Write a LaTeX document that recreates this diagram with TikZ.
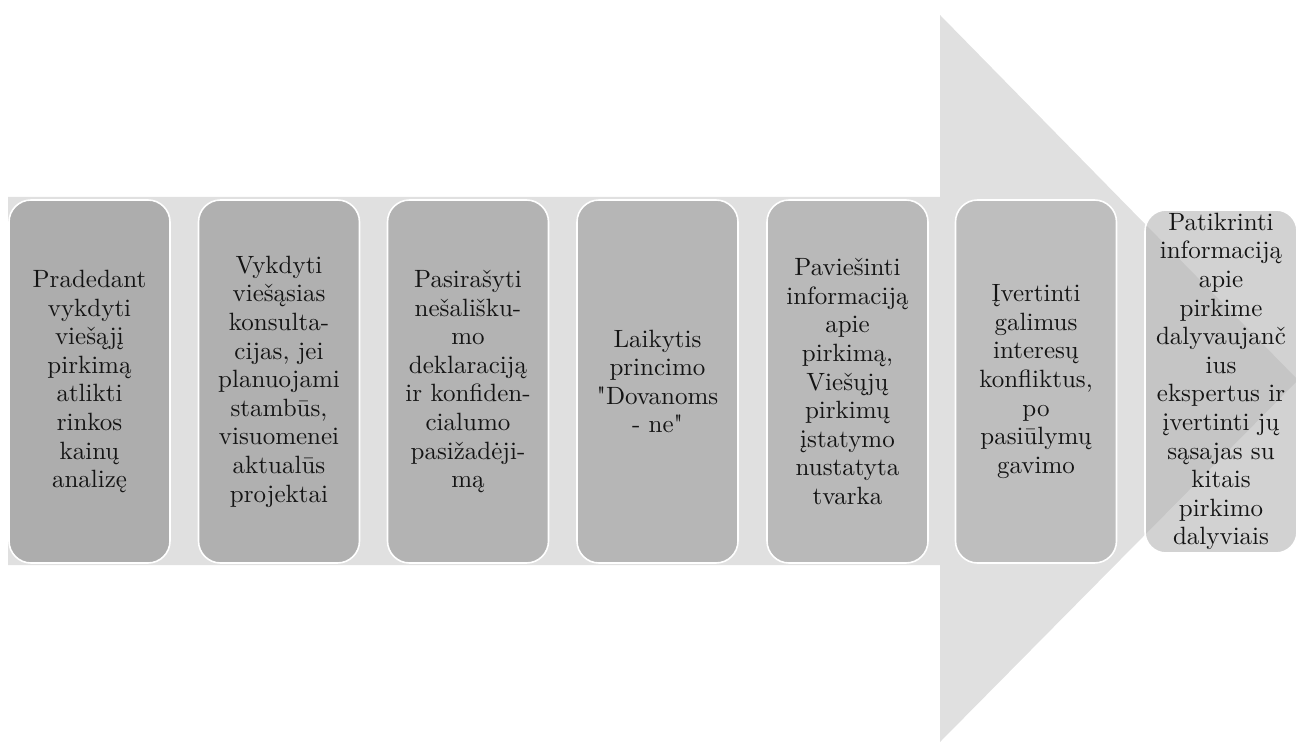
\documentclass[tikz,border=0pt]{standalone}
\usepackage{fontspec}
\newfontfamily\boxfont{lmroman10-regular}[Extension=.otf, Ligatures=TeXOff]
\definecolor{arrowgray}{RGB}{224,224,224}
\definecolor{bA}{RGB}{173,173,173}
\definecolor{bB}{RGB}{176,176,176}
\definecolor{bC}{RGB}{179,179,179}
\definecolor{bD}{RGB}{182,182,182}
\definecolor{bE}{RGB}{185,185,185}
\definecolor{bF}{RGB}{190,190,190}
\definecolor{bG}{RGB}{180,180,180}
\tikzset{
  stepbox/.style={draw=white, line width=1.6pt, rounded corners=22pt,
    minimum width=161pt, minimum height=363pt, inner sep=0pt,
    align=center, text=black!92,
    font=\boxfont\fontsize{25}{28.6}\selectfont},
}
\begin{document}
\begin{tikzpicture}[x=1pt,y=-1pt]
\useasboundingbox (0,0) rectangle (1298,743);
% big arrow
\fill[arrowgray] (8,197) -- (940,197) -- (940,15) -- (1298,380)
  -- (940,742) -- (940,565) -- (8,565) -- cycle;
\node[stepbox, fill=bA] (b1) at (89.5,381.5)
  {Pradedant\\vykdyti\\viešąjį\\pirkimą\\atlikti\\rinkos\\kainų\\analizę};
\node[stepbox, fill=bB] (b2) at (279,381.5)
  {Vykdyti\\viešąsias\\konsulta-\\cijas, jei\\planuojami\\stambūs,\\visuomenei\\aktualūs\\projektai};
\node[stepbox, fill=bC] (b3) at (468,381.5)
  {Pasirašyti\\nešališku-\\mo\\deklaraciją\\ir konfiden-\\cialumo\\pasižadėji-\\mą};
\node[stepbox, fill=bD] (b4) at (657.5,381.5)
  {Laikytis\\princimo\\"Dovanoms\\- ne"};
\node[stepbox, fill=bE] (b5) at (847.5,381.5)
  {Paviešinti\\informaciją\\apie\\pirkimą,\\Viešųjų\\pirkimų\\įstatymo\\nustatyta\\tvarka};
\node[stepbox, fill=bF] (b6) at (1036,381.5)
  {Įvertinti\\galimus\\interesų\\konfliktus,\\po\\pasiūlymų\\gavimo};
\node[stepbox, fill=bG, fill opacity=0.6, text opacity=1, draw opacity=1,
  minimum width=152pt, minimum height=343pt, rounded corners=21pt] (b7) at (1221,381.5)
  {Patikrinti\\informaciją\\apie\\pirkime\\dalyvaujanč\\ius\\ekspertus ir\\įvertinti jų\\sąsajas su\\kitais\\pirkimo\\dalyviais};
\end{tikzpicture}
\end{document}
